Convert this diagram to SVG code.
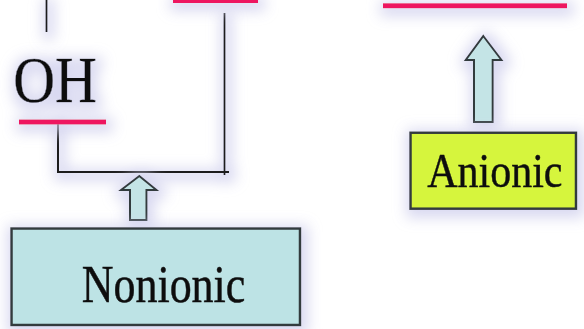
<svg xmlns="http://www.w3.org/2000/svg" width="584" height="329" viewBox="0 0 584 329">
  <defs>
    <filter id="glow" filterUnits="userSpaceOnUse" x="-30" y="-30" width="644" height="389">
      <feMorphology in="SourceAlpha" operator="dilate" radius="5" result="d"/>
      <feGaussianBlur in="d" stdDeviation="7" result="b"/>
      <feOffset in="b" dx="2" dy="3" result="o"/>
      <feFlood flood-color="#d2d2ee" flood-opacity="0.85"/>
      <feComposite in2="o" operator="in" result="s"/>
      <feMerge><feMergeNode in="s"/><feMergeNode in="SourceGraphic"/></feMerge>
    </filter>
  </defs>
  <style>
    .lbl { font-family: "Liberation Serif", "Times New Roman", serif; fill: #111; stroke: #111; stroke-width: 0.4; text-anchor: middle; }
    .bar { stroke: #ee1260; stroke-width: 5; fill: none; }
    .wire { stroke: #1a1a1a; stroke-width: 2; fill: none; }
    .box { stroke: #333a3c; stroke-width: 2.5; }
    .arrow { fill: #c4e4e6; stroke: #333a3c; stroke-width: 2; stroke-linejoin: miter; }
  </style>
  <rect width="584" height="329" fill="#ffffff"/>

  <g id="connectors" filter="url(#glow)">
    <line class="wire" x1="46.5" y1="0" x2="46.5" y2="32"/>
    <polyline class="wire" points="58,122 58,172 229,172"/>
    <line class="wire" x1="224.5" y1="13" x2="224.5" y2="175"/>
  </g>

  <g id="oh" filter="url(#glow)">
    <text class="lbl" font-size="58" transform="translate(55,102) scale(1,1.12)">OH</text>
    <line class="bar" x1="19" y1="122" x2="106" y2="122"/>
  </g>

  <g id="top-bar" filter="url(#glow)">
    <line class="bar" x1="173" y1="0.5" x2="258" y2="0.5"/>
  </g>

  <g id="right-bar" filter="url(#glow)">
    <line class="bar" x1="383" y1="5.8" x2="567" y2="5.8"/>
  </g>

  <g id="arrow-nonionic" filter="url(#glow)">
    <polygon class="arrow" points="139.3,176 156.5,190 146.5,190 146.5,220 130,220 130,190 121,190"/>
  </g>

  <g id="arrow-anionic" filter="url(#glow)">
    <polygon class="arrow" points="483.3,36 501.5,60 492.7,60 492.7,122 474,122 474,60 465.7,60"/>
  </g>

  <g id="nonionic" filter="url(#glow)">
    <rect class="box" x="11.5" y="228.5" width="288.5" height="96.5" fill="#bde3e5"/>
    <text class="lbl" font-size="44" transform="translate(163.5,301.7) scale(1,1.2)">Nonionic</text>
  </g>

  <g id="anionic" filter="url(#glow)">
    <rect class="box" x="410.5" y="132.7" width="165.5" height="76" fill="#d6f53e"/>
    <text class="lbl" font-size="42" transform="translate(494.8,186.7) scale(1,1.17)">Anionic</text>
  </g>
</svg>
